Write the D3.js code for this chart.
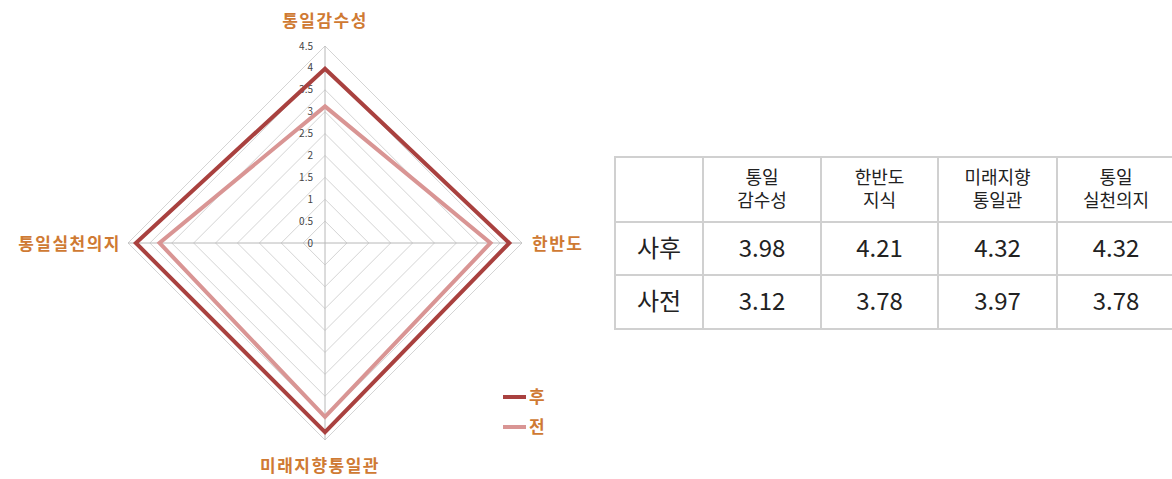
<!DOCTYPE html>
<html>
<head>
<meta charset="utf-8">
<script src="https://cdn.jsdelivr.net/npm/d3@7/dist/d3.min.js"></script>
<style>
  body { margin: 0; background: #fff; }
  svg { display: block; }
</style>
</head>
<body>
<svg id="chart" width="1172" height="479"></svg>
<script>
var axes = ['통일감수성', '한반도', '미래지향통일관', '통일실천의지'],
    tableHeads = [['통일', '감수성'], ['한반도', '지식'], ['미래지향', '통일관'], ['통일', '실천의지']],
    seriesNames = ['후', '전'],
    rowNames = ['사후', '사전'],
    after = [3.98, 4.21, 4.32, 4.32],
    before = [3.12, 3.78, 3.97, 3.78],
    ticks = [0, 0.5, 1, 1.5, 2, 2.5, 3, 3.5, 4, 4.5];

var svg = d3.select('#chart'),
    cx = 325, cy = 243,
    r = d3.scaleLinear().domain([0, 4.5]).range([0, 197]),
    colors = ['#a9413f', '#d99594'],
    labelColor = '#cf7a33';

// angle for axis i, starting at top going clockwise
function pt(i, v) {
    var a = i * Math.PI / 2;
    return [cx + r(v) * Math.sin(a), cy - r(v) * Math.cos(a)];
}

var g = svg.append('g');

// grid diamonds
g.selectAll('path.grid').data(ticks.slice(1)).enter().append('path')
    .attr('class', 'grid')
    .attr('d', function(t) { return d3.line()(axes.map(function(a, i) { return pt(i, t); })) + 'Z'; })
    .attr('fill', 'none')
    .attr('stroke', '#d4d4d4')
    .attr('stroke-width', 1);

// spokes
g.selectAll('line.spoke').data(axes).enter().append('line')
    .attr('x1', cx).attr('y1', cy)
    .attr('x2', function(d, i) { return pt(i, 4.5)[0]; })
    .attr('y2', function(d, i) { return pt(i, 4.5)[1]; })
    .attr('stroke', '#b8b8b8')
    .attr('stroke-width', 1);

// tick labels
g.selectAll('text.tick').data(ticks).enter().append('text')
    .attr('x', cx - 12)
    .attr('y', function(t) { return cy - r(t); })
    .attr('dy', '0.35em')
    .attr('text-anchor', 'end')
    .attr('font-family', '"Noto Sans CJK KR", "Noto Sans", sans-serif')
    .attr('font-size', 10)
    .attr('fill', '#444')
    .text(function(t) { return t; });

// series (before drawn first, after on top)
[before, after].forEach(function(vals, k) {
    var col = k === 0 ? colors[1] : colors[0];
    g.append('path')
        .attr('d', d3.line()(vals.map(function(v, i) { return pt(i, v); })) + 'Z')
        .attr('fill', 'none')
        .attr('stroke', col)
        .attr('stroke-width', 4)
        .attr('stroke-linejoin', 'miter');
});

// axis labels
var lab = {fam: '"Noto Sans CJK KR", sans-serif', size: 17};
var labelPos = [
    {x: cx, y: 21, anchor: 'middle'},
    {x: 532, y: cy + 1, anchor: 'start'},
    {x: 320, y: 466, anchor: 'middle'},
    {x: 121, y: cy + 1, anchor: 'end'}
];
g.selectAll('text.axis').data(axes).enter().append('text')
    .attr('x', function(d, i) { return labelPos[i].x; })
    .attr('y', function(d, i) { return labelPos[i].y; })
    .attr('dy', '0.35em')
    .attr('text-anchor', function(d, i) { return labelPos[i].anchor; })
    .attr('font-family', lab.fam)
    .attr('font-size', lab.size)
    .attr('font-weight', 'bold')
    .attr('letter-spacing', 1.5)
    .attr('fill', labelColor)
    .text(function(d) { return d; });

// legend
var leg = g.selectAll('g.legend').data(seriesNames).enter().append('g')
    .attr('transform', function(d, i) { return 'translate(503,' + (397 + i * 30) + ')'; });
leg.append('line')
    .attr('x1', 0).attr('x2', 23).attr('y1', 0).attr('y2', 0)
    .attr('stroke', function(d, i) { return colors[i]; })
    .attr('stroke-width', 4);
leg.append('text')
    .attr('x', 26).attr('dy', '0.35em')
    .attr('font-family', lab.fam)
    .attr('font-size', 17)
    .attr('font-weight', 'bold')
    .attr('fill', labelColor)
    .text(function(d) { return d; });

// table
var colX = [615, 703, 821, 938, 1057, 1175],
    rowY = [157, 222, 275, 329],
    tfont = '"Noto Sans CJK KR", sans-serif',
    tb = svg.append('g');

tb.selectAll('line.h').data(rowY).enter().append('line')
    .attr('x1', colX[0]).attr('x2', colX[colX.length - 1])
    .attr('y1', function(d) { return d; }).attr('y2', function(d) { return d; })
    .attr('stroke', '#d0d0d0').attr('stroke-width', 2);
tb.selectAll('line.v').data(colX).enter().append('line')
    .attr('y1', rowY[0] - 1).attr('y2', rowY[rowY.length - 1] + 1)
    .attr('x1', function(d) { return d; }).attr('x2', function(d) { return d; })
    .attr('stroke', '#d0d0d0').attr('stroke-width', 2);

function mid(arr, i) { return (arr[i] + arr[i + 1]) / 2; }

// header
tableHeads.forEach(function(lines, j) {
    lines.forEach(function(s, k) {
        tb.append('text')
            .attr('x', mid(colX, j + 1))
            .attr('y', mid(rowY, 0) - 11.5 + k * 23)
            .attr('dy', '0.35em')
            .attr('text-anchor', 'middle')
            .attr('font-family', tfont)
            .attr('font-size', 18)
            .attr('fill', '#222')
            .text(s);
    });
});

// rows
[after, before].forEach(function(vals, i) {
    var y = mid(rowY, i + 1);
    tb.append('text')
        .attr('x', mid(colX, 0)).attr('y', y).attr('dy', '0.35em')
        .attr('text-anchor', 'middle')
        .attr('font-family', tfont).attr('font-size', 24).attr('fill', '#222')
        .text(rowNames[i]);
    tb.selectAll(null).data(vals).enter().append('text')
        .attr('x', function(d, j) { return mid(colX, j + 1); })
        .attr('y', y).attr('dy', '0.35em')
        .attr('text-anchor', 'middle')
        .attr('font-family', tfont).attr('font-size', 24).attr('fill', '#222')
        .text(function(d) { return d.toFixed(2); });
});
</script>
</body>
</html>
